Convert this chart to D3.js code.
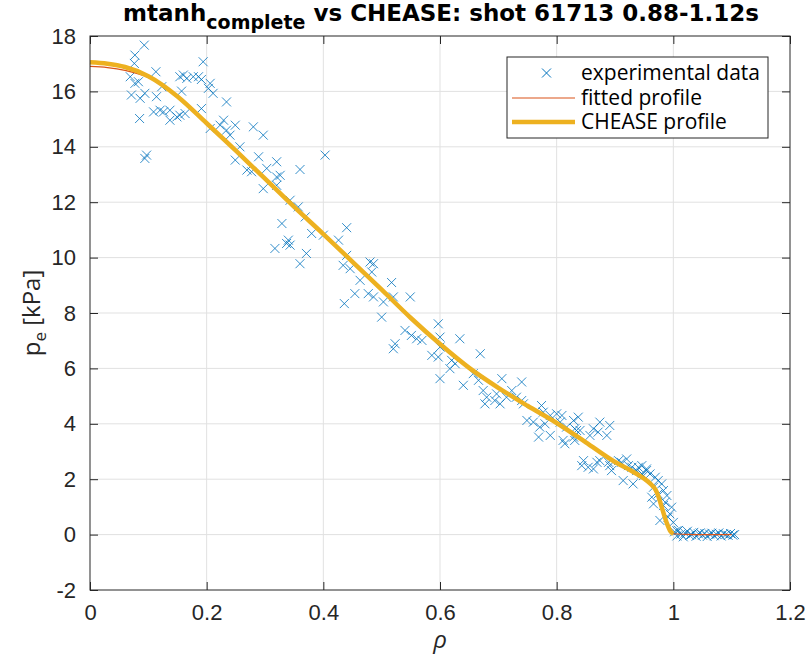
<!DOCTYPE html>
<html>
<head>
<meta charset="utf-8">
<script src="https://cdn.jsdelivr.net/npm/d3@7"></script>
<style>
  body { margin: 0; background: #fff; }
  svg { display: block; font-family: "Open Sans", "Noto Sans", sans-serif; }
</style>
</head>
<body>
<svg id="chart" width="806" height="663"></svg>
<script>
// Measured electron pressure (Thomson scattering), rho vs p_e [kPa]
const expRho = [
  0.093,0.077,0.076,0.194,0.113,0.154,0.160,0.166,0.177,0.186,0.191,0.206,0.203,0.211,0.069,0.077,0.083,0.123,0.157,0.071,
  0.086,0.094,0.114,0.234,0.191,0.109,0.120,0.126,0.137,0.149,0.154,0.163,0.085,0.137,0.229,0.223,0.234,0.249,0.240,0.280,
  0.297,0.206,0.097,0.094,0.257,0.249,0.289,0.269,0.277,0.303,0.297,0.320,0.320,
  0.403,0.360,0.326,0.320,0.343,0.357,0.329,0.380,0.400,0.426,0.440,0.340,0.343,0.337,0.317,0.371,0.360,0.440,0.434,0.446,
  0.480,0.486,0.483,0.463,0.517,0.454,0.477,0.486,0.520,0.549,0.503,0.436,0.500,0.369,
  0.597,0.540,0.551,0.560,0.569,0.523,0.520,0.634,0.600,0.600,0.586,0.597,0.620,0.626,0.617,0.669,0.600,0.640,0.657,0.666,
  0.706,0.740,0.674,0.680,0.694,0.697,0.703,0.714,0.723,0.731,0.677,
  0.740,0.743,0.774,0.777,0.749,0.760,0.771,0.789,0.800,0.809,0.806,0.817,0.829,0.834,0.769,0.789,0.780,0.837,0.831,0.840,
  0.874,0.863,0.857,0.871,0.891,0.886,0.814,0.811,0.831,0.829,
  0.846,0.843,0.863,0.869,0.854,0.891,0.894,0.906,0.911,0.920,0.923,0.914,0.931,0.940,0.946,0.946,0.874,0.889,0.929,0.937,0.954,
  0.960,0.969,0.966,0.980,0.974,0.989,0.986,0.997,0.994,0.963,0.966,0.977,1.000,0.991,0.954,0.949,0.983,0.983,1.006,0.974,
  1.002,1.006,1.009,1.013,1.017,1.020,1.024,1.028,1.031,1.035,1.039,1.043,1.046,1.050,1.054,1.058,1.062,1.066,1.070,1.074,
  1.078,1.082,1.086,1.090,1.094,1.098,1.102,1.105
];
const expPe = [
  17.67,17.31,17.01,17.07,16.71,16.53,16.59,16.47,16.53,16.53,16.43,16.29,16.11,15.93,16.53,16.29,16.35,16.17,16.01,15.87,
  15.75,15.93,15.81,15.62,15.38,15.26,15.32,15.26,15.32,15.08,15.14,15.20,15.02,14.96,14.96,14.78,14.60,14.78,14.42,14.72,
  14.42,14.66,13.70,13.58,14.00,13.52,13.64,13.16,13.10,13.22,12.49,13.46,12.91,
  13.70,13.18,12.97,12.61,12.07,11.83,11.23,10.87,10.81,10.63,11.08,10.63,10.45,10.51,10.33,10.15,9.78,10.08,9.72,9.60,
  9.84,9.78,9.48,9.18,9.10,8.70,8.70,8.58,8.58,8.58,8.40,8.34,7.85,11.47,
  7.61,7.37,7.19,7.07,7.01,6.89,6.71,7.07,7.13,6.77,6.47,6.41,6.29,6.17,5.99,6.53,5.63,5.39,5.81,5.57,
  5.63,5.51,5.20,4.96,4.84,5.08,4.72,4.96,5.20,4.96,4.72,
  4.84,4.72,4.66,4.42,4.12,4.06,3.88,4.30,4.36,4.30,4.06,3.88,4.12,3.76,3.52,3.58,4.00,4.24,3.82,3.76,
  4.06,3.82,3.58,3.70,3.94,3.58,3.28,3.40,3.40,3.52,
  2.67,2.49,2.37,2.61,2.43,2.49,2.31,2.67,2.61,2.73,2.49,1.95,1.83,2.43,2.19,2.49,2.67,2.61,2.43,2.31,2.31,
  2.19,2.07,1.71,1.83,1.47,1.41,1.17,0.99,0.75,1.35,1.11,0.51,0.44,0.63,2.37,2.13,1.59,1.05,0.14,1.95,
  0.10,-0.05,0.15,0.02,-0.08,0.05,0.12,-0.03,0.00,0.08,-0.06,0.03,0.06,-0.02,0.04,-0.07,0.02,0.05,-0.04,0.01,
  0.06,-0.05,0.03,0.00,-0.03,0.04,-0.02,0.00
];

// mtanh fit to the measurements
const fitRho = [0,0.03,0.06,0.1,0.15,0.2,0.25,0.3,0.35,0.4,0.45,0.5,0.55,0.6,0.65,0.7,0.75,0.8,0.85,0.9,0.93,0.95,0.96,0.97,0.975,0.98,0.985,0.99,0.995,1.0,1.02,1.05,1.08,1.1];
const fitPe  = [16.9,16.86,16.76,16.5,15.8,14.84,13.85,12.84,11.82,10.84,9.84,8.82,7.8,6.85,5.98,5.27,4.63,4.02,3.33,2.61,2.27,2.01,1.84,1.58,1.33,0.98,0.64,0.34,0.12,0.03,0.01,0.0,0.0,0.0];

// CHEASE equilibrium pressure profile
const cheaseRho = [0,0.03,0.06,0.1,0.15,0.2,0.25,0.3,0.35,0.4,0.45,0.5,0.55,0.6,0.65,0.7,0.75,0.8,0.85,0.9,0.93,0.95,0.96,0.97,0.975,0.98,0.985,0.99,0.995,1.0];
const cheasePe  = [17.05,17.0,16.88,16.55,15.82,14.85,13.86,12.85,11.83,10.85,9.85,8.84,7.82,6.88,6.02,5.3,4.65,4.03,3.33,2.62,2.28,2.02,1.85,1.6,1.35,1.0,0.65,0.35,0.12,0.03];

const xTicks = [0, 0.2, 0.4, 0.6, 0.8, 1, 1.2];
const yTicks = [-2, 0, 2, 4, 6, 8, 10, 12, 14, 16, 18];
const legendLabels = ["experimental data", "fitted profile", "CHEASE profile"];

const colExp = "#0072BD", colFit = "#D95319", colChease = "#EDB120";
const axisCol = "#262626", gridCol = "#e1e1e1";

const svg = d3.select("#chart");
const L = 90, R = 790, T = 36, B = 590;
const x = d3.scaleLinear().domain([0, 1.2]).range([L, R]);
const y = d3.scaleLinear().domain([-2, 18]).range([B, T]);

// grid
const grid = svg.append("g");
grid.selectAll(".gx").data(xTicks.slice(1, -1)).join("line")
  .attr("x1", d => x(d)).attr("x2", d => x(d)).attr("y1", T).attr("y2", B)
  .attr("stroke", gridCol).attr("stroke-width", 1);
grid.selectAll(".gy").data(yTicks.slice(1, -1)).join("line")
  .attr("x1", L).attr("x2", R).attr("y1", d => y(d)).attr("y2", d => y(d))
  .attr("stroke", gridCol).attr("stroke-width", 1);

// axes with inward ticks on all four sides
const tickLen = 8;
const fmt = d => String(d);
svg.append("g").attr("transform", `translate(0,${B})`)
  .call(d3.axisBottom(x).tickValues(xTicks).tickFormat(fmt).tickSizeInner(-tickLen).tickSizeOuter(0).tickPadding(14))
  .call(g => g.select(".domain").remove())
  .call(g => g.selectAll("line").attr("stroke", axisCol))
  .call(g => g.selectAll("text").attr("fill", axisCol).attr("font-size", 22).attr("font-family", null));
svg.append("g").attr("transform", `translate(0,${T})`)
  .call(d3.axisTop(x).tickValues(xTicks).tickFormat("").tickSizeInner(-tickLen).tickSizeOuter(0))
  .call(g => g.select(".domain").remove())
  .call(g => g.selectAll("line").attr("stroke", axisCol));
svg.append("g").attr("transform", `translate(${L},0)`)
  .call(d3.axisLeft(y).tickValues(yTicks).tickFormat(fmt).tickSizeInner(-tickLen).tickSizeOuter(0).tickPadding(14))
  .call(g => g.select(".domain").remove())
  .call(g => g.selectAll("line").attr("stroke", axisCol))
  .call(g => g.selectAll("text").attr("fill", axisCol).attr("font-size", 22).attr("font-family", null));
svg.append("g").attr("transform", `translate(${R},0)`)
  .call(d3.axisRight(y).tickValues(yTicks).tickFormat("").tickSizeInner(-tickLen).tickSizeOuter(0))
  .call(g => g.select(".domain").remove())
  .call(g => g.selectAll("line").attr("stroke", axisCol));

// experimental points as 'x' markers
const m = 4.5;
const xMark = `M${-m},${-m}L${m},${m}M${-m},${m}L${m},${-m}`;
const plot = svg.append("g");
plot.selectAll("path.exp").data(d3.range(expRho.length)).join("path")
  .attr("class", "exp")
  .attr("transform", i => `translate(${x(expRho[i])},${y(expPe[i])})`)
  .attr("d", xMark)
  .attr("fill", "none").attr("stroke", colExp).attr("stroke-width", 1).attr("stroke-opacity", 0.8);

const line = d3.line().x(d => x(d[0])).y(d => y(d[1])).curve(d3.curveMonotoneX);
plot.append("path").datum(d3.zip(fitRho, fitPe)).attr("d", line)
  .attr("fill", "none").attr("stroke", colFit).attr("stroke-width", 1.2);
plot.append("path").datum(d3.zip(cheaseRho, cheasePe)).attr("d", line)
  .attr("fill", "none").attr("stroke", colChease).attr("stroke-width", 4.5)
  .attr("stroke-linejoin", "round").attr("stroke-linecap", "butt");

// axes box
svg.append("rect").attr("x", L).attr("y", T).attr("width", R - L).attr("height", B - T)
  .attr("fill", "none").attr("stroke", axisCol).attr("stroke-width", 1);

// legend
const lg = svg.append("g");
lg.append("rect").attr("x", 507).attr("y", 57).attr("width", 261).attr("height", 81)
  .attr("fill", "#fff").attr("stroke", axisCol).attr("stroke-width", 1);
const rows = [73, 98, 122];
lg.append("path").attr("transform", `translate(546.5,${rows[0]})`).attr("d", xMark)
  .attr("fill", "none").attr("stroke", colExp).attr("stroke-width", 1);
lg.append("line").attr("x1", 512).attr("x2", 575).attr("y1", rows[1]).attr("y2", rows[1])
  .attr("stroke", colFit).attr("stroke-width", 1.2);
lg.append("line").attr("x1", 512).attr("x2", 575).attr("y1", rows[2]).attr("y2", rows[2])
  .attr("stroke", colChease).attr("stroke-width", 4.5);
lg.selectAll("text").data(legendLabels).join("text")
  .attr("x", 581).attr("y", (d, i) => rows[i]).attr("dy", "0.35em")
  .attr("font-size", 21).attr("fill", "#000").text(d => d);

// axis labels
svg.append("text").attr("x", (L + R) / 2).attr("y", 648).attr("text-anchor", "middle")
  .attr("font-size", 24).attr("font-style", "italic").attr("fill", axisCol).text("ρ");
const yl = svg.append("text").attr("transform", "translate(40,313) rotate(-90)")
  .attr("text-anchor", "middle").attr("font-size", 24).attr("fill", axisCol);
yl.append("tspan").text("p");
yl.append("tspan").attr("font-size", 17).attr("dy", 6).text("e");
yl.append("tspan").attr("dy", -6).text(" [kPa]");

// title
const title = svg.append("text").attr("x", 441).attr("y", 21).attr("text-anchor", "middle")
  .style("font-family", "'DejaVu Sans', sans-serif")
  .attr("font-size", 23).attr("font-weight", "bold").attr("fill", "#000");
title.append("tspan").text("mtanh");
title.append("tspan").attr("font-size", 19).attr("dy", 8).text("complete");
title.append("tspan").attr("dy", -8).text(" vs CHEASE: shot 61713 0.88-1.12s");
</script>
</body>
</html>
